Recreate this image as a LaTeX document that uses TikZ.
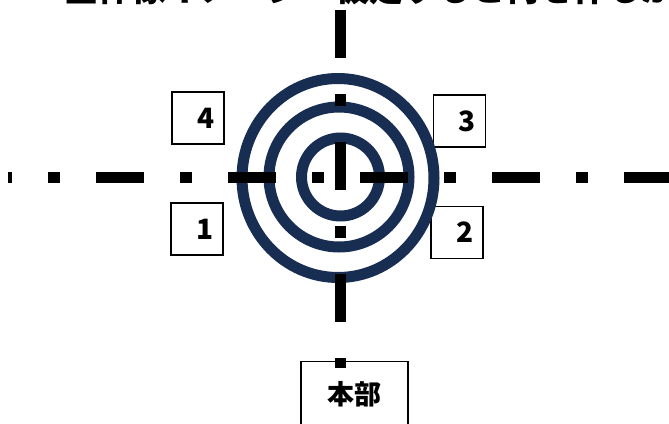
\documentclass[tikz,border=0pt]{standalone}
\usepackage{fontspec}
\newfontfamily\jp{Noto Sans CJK JP}
\definecolor{navy}{RGB}{24,45,82}
\begin{document}
\begin{tikzpicture}[x=1pt,y=-1pt,
  numbox/.style={draw=black, line width=1.4pt, fill=white, minimum width=52pt, minimum height=52pt, inner sep=0pt, font=\jp\bfseries\fontsize{28}{28}\selectfont},
  hqbox/.style={draw=black, line width=1.4pt, fill=white, minimum width=107pt, minimum height=66pt, inner sep=0pt, font=\jp\bfseries\fontsize{27}{27}\selectfont},
  ring/.style={draw=navy, line width=11pt},
  cross/.style={draw=black, line width=11pt, dash pattern=on 48pt off 36pt on 12pt off 36pt}]
\useasboundingbox (0,0) rectangle (669,423);
% title (cut off at the top edge)
\node[anchor=base west, inner sep=0pt, font=\jp\bfseries\fontsize{34}{34}\selectfont] (title) at (64,1.5) {全体像イメージ：仮定すると何を作るか};
% boxes
\node[numbox] (b4) at (198,118) {\hspace*{16pt}4};
\node[numbox] (b3) at (459.5,121) {\hspace*{16pt}3};
\node[numbox] (b1) at (197,229) {\hspace*{16pt}1};
\node[numbox] (b2) at (457,232.5) {\hspace*{16pt}2};
\node[hqbox, anchor=north] (hq) at (354.5,361) {本部};
% rings
\draw[ring] (338,178) ellipse [x radius=96pt, y radius=99.5pt];
\draw[ring] (339,177) circle [radius=70pt];
\draw[ring] (340.5,177) circle [radius=39pt];
% crosshair
\coordinate (vt) at (340,10);
\coordinate (vb) at (340,368);
\coordinate (hl) at (8,177);
\coordinate (hr) at (669,177);
\draw[cross] (vt) -- (vb);
\draw[cross, dash phase=44pt] (hl) -- (hr);
\end{tikzpicture}
\end{document}
